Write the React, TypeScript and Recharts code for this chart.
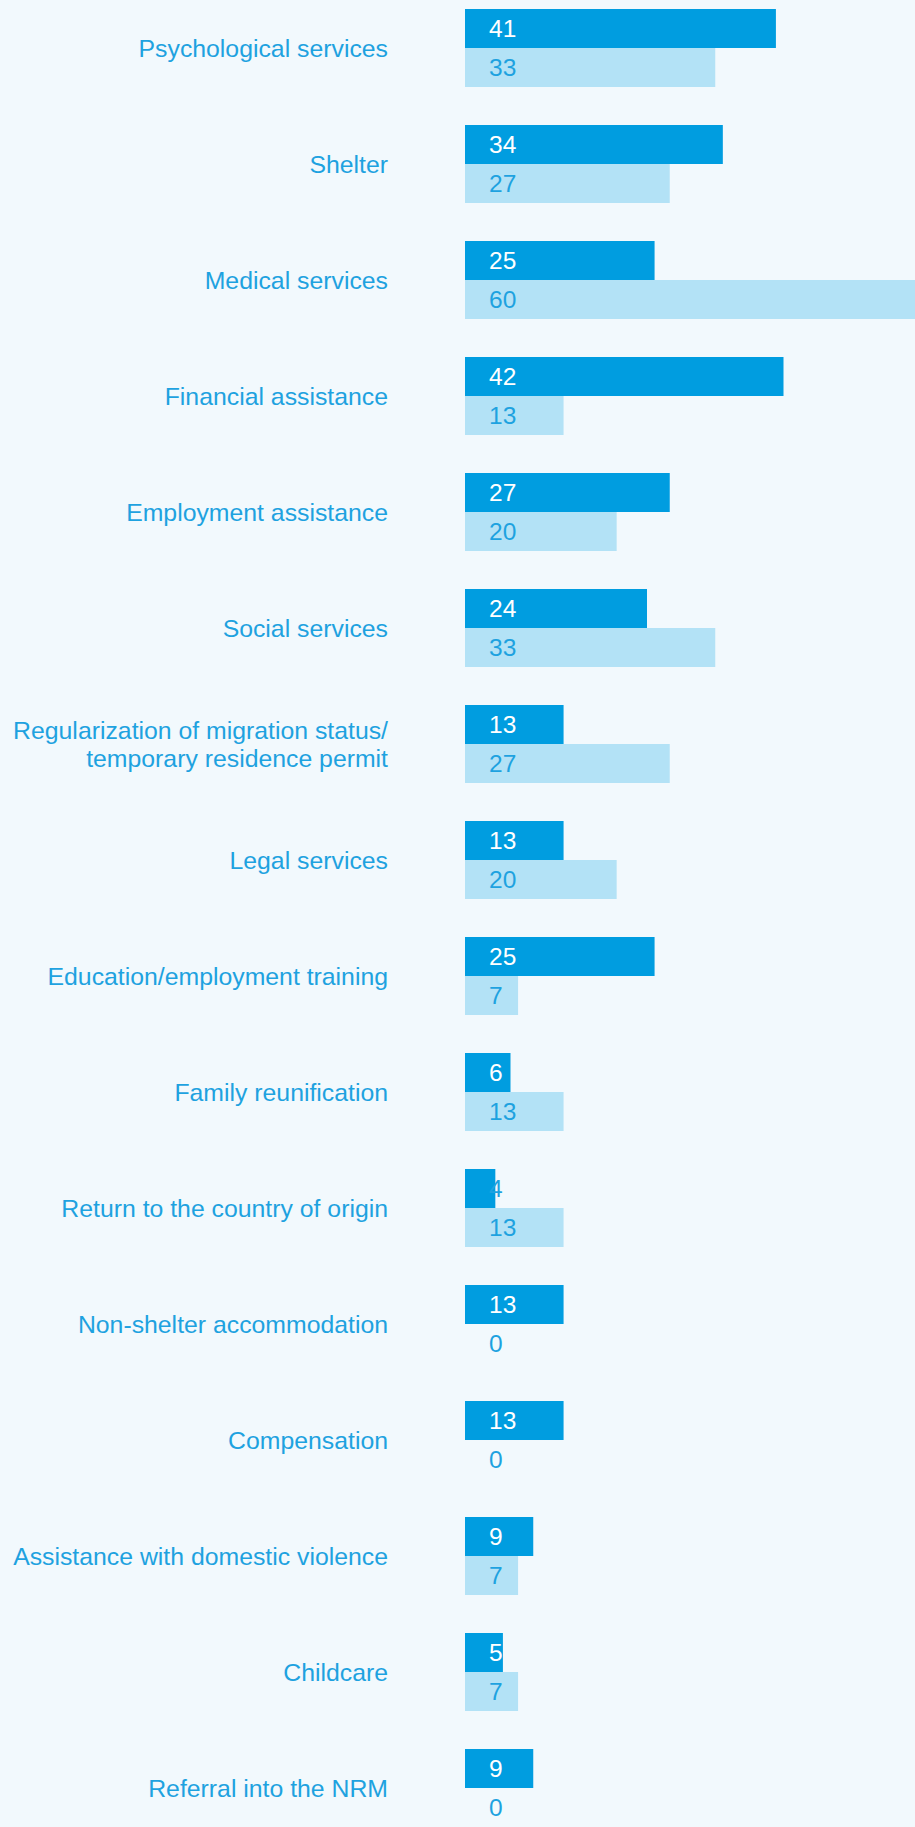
import React from 'react';
import { BarChart, Bar, XAxis, YAxis, LabelList } from 'recharts';

const categories = [
  'Psychological services',
  'Shelter',
  'Medical services',
  'Financial assistance',
  'Employment assistance',
  'Social services',
  'Regularization of migration status/\ntemporary residence permit',
  'Legal services',
  'Education/employment training',
  'Family reunification',
  'Return to the country of origin',
  'Non-shelter accommodation',
  'Compensation',
  'Assistance with domestic violence',
  'Childcare',
  'Referral into the NRM',
];

const seriesA = [41, 34, 25, 42, 27, 24, 13, 13, 25, 6, 4, 13, 13, 9, 5, 9];
const seriesB = [33, 27, 60, 13, 20, 33, 27, 20, 7, 13, 13, 0, 0, 7, 7, 0];

const DARK = '#009de0';
const LIGHT = '#b3e2f6';
const TEXT = '#1ea2e0';
const BG = '#f2f9fd';
const FONT = "'Liberation Sans', Arial, sans-serif";

const chartData = categories.map((name, i) => ({
  name,
  a: seriesA[i],
  b: seriesB[i],
}));

function CategoryTick(props: any) {
  const { x, y, payload } = props;
  const lines = String(payload.value).split('\n');
  const lineHeight = 28;
  const startDy = -((lines.length - 1) * lineHeight) / 2;
  return (
    <text x={x} y={y} textAnchor="end" fill={TEXT} fontSize={24.8} fontFamily={FONT}>
      {lines.map((line, i) => (
        <tspan key={i} x={x} dy={i === 0 ? startDy : lineHeight} dominantBaseline="central">
          {line}
        </tspan>
      ))}
    </text>
  );
}

function makeLabel(onBar: string) {
  return (props: any) => {
    const { x, y, width, height, value } = props;
    // numbers that don't fit on the bar sit on the background
    const fill = width < 34 ? TEXT : onBar;
    return (
      <text
        x={x + 24}
        y={y + height / 2}
        dominantBaseline="central"
        fill={fill}
        fontSize={24.5}
        fontFamily={FONT}
      >
        {value}
      </text>
    );
  };
}

export default function App() {
  return (
    <div
      style={{
        position: 'absolute',
        left: 0,
        top: 0,
        width: 915,
        height: 1827,
        overflow: 'hidden',
        background: BG,
      }}
    >
      <div style={{ marginTop: -10 }}>
        <BarChart
          width={920}
          height={1856}
          data={chartData}
          layout="vertical"
          margin={{ top: 0, right: 0, bottom: 0, left: 0 }}
          barCategoryGap={19}
          barGap={0}
        >
          <XAxis type="number" domain={[0, 60]} hide />
          <YAxis
            type="category"
            dataKey="name"
            width={465}
            axisLine={false}
            tickLine={false}
            tickSize={0}
            tickMargin={77}
            interval={0}
            tick={<CategoryTick />}
          />
          <Bar dataKey="a" fill={DARK} isAnimationActive={false}>
            <LabelList dataKey="a" content={makeLabel('#ffffff')} />
          </Bar>
          <Bar dataKey="b" fill={LIGHT} minPointSize={0.01} isAnimationActive={false}>
            <LabelList dataKey="b" content={makeLabel(TEXT)} />
          </Bar>
        </BarChart>
      </div>
    </div>
  );
}
